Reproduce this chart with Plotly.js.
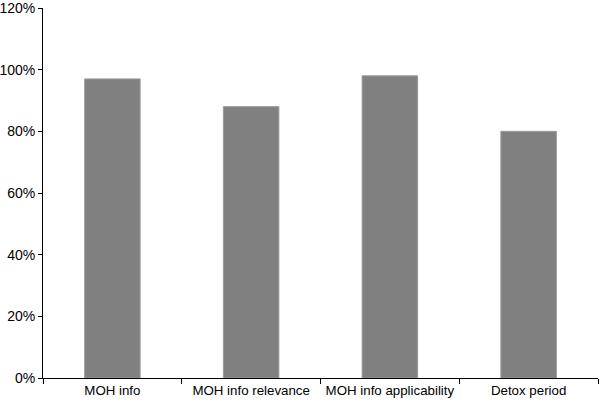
<!DOCTYPE html>
<html>
<head>
<meta charset="utf-8">
<script src="https://cdn.plot.ly/plotly-3.0.1.min.js"></script>
<style>
  html, body { margin: 0; padding: 0; background: #fff; }
  #chart { width: 600px; height: 402px; }
</style>
</head>
<body>
<div id="chart"></div>
<script>
const categories = ['MOH info', 'MOH info relevance', 'MOH info applicability', 'Detox period'];
const shares = [0.97, 0.88, 0.98, 0.80];
const yTicks = [0, 0.2, 0.4, 0.6, 0.8, 1.0, 1.2];
const yTickText = ['0%', '20%', '40%', '60%', '80%', '100%', '120%'];

const trace = {
  type: 'bar',
  x: categories,
  y: shares,
  width: 0.4,
  marker: { color: '#808080', line: { color: '#9a9a9a', width: 1 } },
  hoverinfo: 'x+y',
};

const fontFamily = 'Liberation Sans, Arial, sans-serif';

const layout = {
  width: 600,
  height: 402,
  margin: { l: 43, r: 2, t: 8, b: 24 },
  paper_bgcolor: '#fff',
  plot_bgcolor: '#fff',
  showlegend: false,
  xaxis: {
    type: 'category',
    showline: true,
    linecolor: '#000',
    linewidth: 1,
    ticks: 'outside',
    tickson: 'boundaries',
    ticklen: 5,
    tickcolor: '#000',
    showgrid: false,
    zeroline: false,
    tickfont: { family: fontFamily, size: 13.3, color: '#000' },
  },
  yaxis: {
    range: [0, 1.2],
    tickmode: 'array',
    tickvals: yTicks,
    ticktext: yTickText,
    showline: true,
    linecolor: '#000',
    linewidth: 1,
    ticks: 'outside',
    ticklen: 4,
    ticklabelstandoff: 0,
    ticklabeloverflow: 'allow',
    tickcolor: '#000',
    showgrid: false,
    zeroline: false,
    tickfont: { family: fontFamily, size: 14, color: '#000' },
  },
};

Plotly.newPlot('chart', [trace], layout, { displayModeBar: false, staticPlot: true });
</script>
</body>
</html>
